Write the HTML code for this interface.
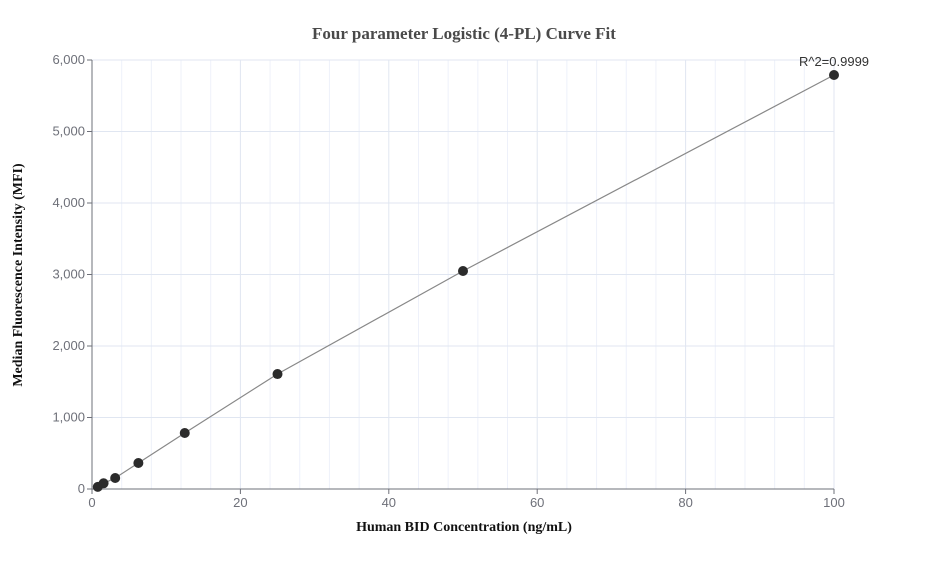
<!DOCTYPE html>
<html><head><meta charset="utf-8"><style>
body{margin:0;background:#fff;font-family:"Liberation Sans",sans-serif}
svg text{font-family:"Liberation Sans",sans-serif}
</style></head><body>
<svg id="chart" width="927" height="560" xmlns="http://www.w3.org/2000/svg">
<text x="464" y="39" text-anchor="middle" font-weight="bold" font-size="17" fill="#4a4a4a" style="font-family:'Liberation Serif',serif">Four parameter Logistic (4-PL) Curve Fit</text>
<g id="grid"></g>
<g id="axes"></g>
<g id="marks"></g>
<text x="464" y="531" text-anchor="middle" font-weight="bold" font-size="14" fill="#111" style="font-family:'Liberation Serif',serif">Human BID Concentration (ng/mL)</text>
<text transform="translate(22,275) rotate(-90)" text-anchor="middle" font-weight="bold" font-size="14" fill="#111" style="font-family:'Liberation Serif',serif">Median Fluorescence Intensity (MFI)</text>
<text x="834" y="66" text-anchor="middle" font-size="13" fill="#333">R^2=0.9999</text>
</svg>
<script>
const xValues=[0.78,1.56,3.125,6.25,12.5,25,50,100];
const yValues=[30,80,154,364,783,1608,3049,5790];
const xTicks=[0,20,40,60,80,100];
const yTicks=[0,1000,2000,3000,4000,5000,6000];
const X0=92,X1=834,Y0=489,Y1=60;
const sx=v=>X0+(v/100)*(X1-X0);
const sy=v=>Y0-(v/6000)*(Y0-Y1);
const NS="http://www.w3.org/2000/svg";
function mk(tag,attrs,parent){const e=document.createElementNS(NS,tag);for(const k in attrs)e.setAttribute(k,attrs[k]);document.getElementById(parent).appendChild(e);return e;}
for(let v=4;v<100;v+=4){if(v%20===0)continue;
const l=mk('line',{x1:sx(v),x2:sx(v),y1:Y1,y2:Y0,stroke:'#eef1fa','stroke-width':1},'grid');

}
xTicks.forEach(t=>{if(t===0)return;
const l=mk('line',{x1:sx(t),x2:sx(t),y1:Y1,y2:Y0,stroke:'#e0e6f1','stroke-width':1},'grid');

});
yTicks.forEach(t=>{
const l=mk('line',{x1:X0,x2:X1,y1:sy(t),y2:sy(t),stroke:'#e0e6f1','stroke-width':1},'grid');


const tk=mk('line',{x1:X0-5,x2:X0,y1:sy(t),y2:sy(t),stroke:'#6e7079'},'axes');


const tx=mk('text',{x:X0-7,y:sy(t)+4,'text-anchor':'end','font-size':13,fill:'#6e7079'},'axes');
tx.textContent=t.toLocaleString('en-US');

});
xTicks.forEach(t=>{
const tk=mk('line',{x1:sx(t),x2:sx(t),y1:Y0,y2:Y0+5,stroke:'#6e7079'},'axes');


const tx=mk('text',{x:sx(t),y:Y0+18,'text-anchor':'middle','font-size':13,fill:'#6e7079'},'axes');
tx.textContent=t;

});
const ya=mk('line',{x1:X0,x2:X0,y1:Y1,y2:Y0,stroke:'#6e7079'},'axes');


const xa=mk('line',{x1:X0,x2:X1,y1:Y0,y2:Y0,stroke:'#6e7079'},'axes');


const pl=mk('polyline',{points:xValues.map((x,i)=>sx(x)+','+sy(yValues[i])).join(' '),fill:'none',stroke:'#888','stroke-width':1.2},'marks');


xValues.forEach((x,i)=>{
const c=mk('circle',{cx:sx(x),cy:sy(yValues[i]),r:5,fill:'#2b2b2b'},'marks');

});
</script>
</body></html>
